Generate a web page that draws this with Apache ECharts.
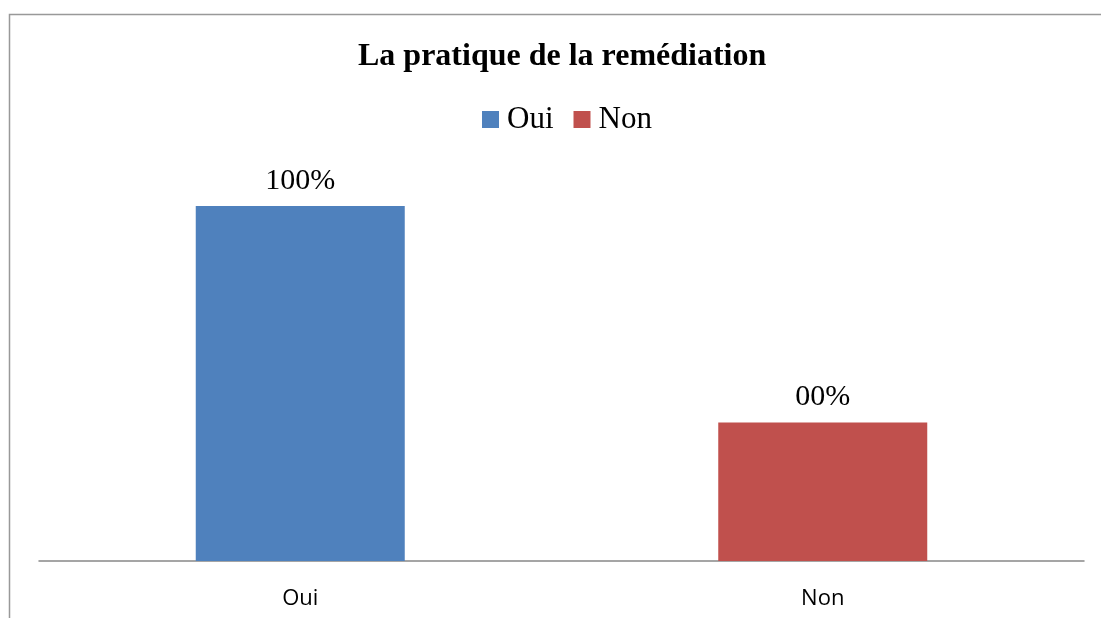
<!DOCTYPE html>
<html>
<head>
<meta charset="utf-8">
<script src="https://cdn.jsdelivr.net/npm/echarts@6/dist/echarts.min.js"></script>
<style>
  html, body { margin: 0; padding: 0; background: #fff; }
  #chart { width: 1101px; height: 618px; }
</style>
</head>
<body>
<div id="chart"></div>
<script>
// données
const categories = ['Oui', 'Non'];
const seriesNames = ['Oui', 'Non'];
const values = [100, 39];
const valueLabels = ['100%', '00%'];
const colors = ['#4F81BD', '#C0504D'];

const chart = echarts.init(document.getElementById('chart'));

const series = seriesNames.map((name, i) => ({
  name: name,
  type: 'bar',
  stack: 'total',
  barWidth: '40%',
  data: categories.map((c, j) => (j === i ? values[i] : '-')),
  itemStyle: { color: colors[i] },
  label: {
    show: true,
    position: 'top',
    distance: 10,
    formatter: () => valueLabels[i],
    fontFamily: 'Liberation Serif',
    fontSize: 30,
    color: '#000'
  }
}));

chart.setOption({
  animation: false,
  title: {
    text: 'La pratique de la remédiation',
    left: 353,
    top: 36,
    textStyle: {
      fontFamily: 'Liberation Serif',
      fontWeight: 'bold',
      fontSize: 32,
      color: '#000'
    }
  },
  legend: {
    data: seriesNames,
    top: 99,
    left: 477,
    icon: 'rect',
    itemWidth: 17,
    itemHeight: 17,
    itemGap: 20,
    textStyle: {
      fontFamily: 'Liberation Serif',
      fontSize: 31,
      color: '#000',
      padding: [0, 0, 0, 3]
    }
  },
  grid: { left: 39, right: 17, top: 206, bottom: 57 },
  xAxis: {
    type: 'category',
    data: categories,
    axisLine: { lineStyle: { color: '#888', width: 1.5 } },
    axisTick: { show: false },
    axisLabel: {
      fontFamily: 'Open Sans',
      fontSize: 22,
      color: '#000',
      margin: 27
    }
  },
  yAxis: {
    type: 'value',
    min: 0,
    max: 100,
    show: false,
    splitLine: { show: false }
  },
  graphic: [
    {
      type: 'polyline',
      shape: { points: [[9.5, 618], [9.5, 14.5], [1101, 14.5]] },
      style: { stroke: '#999', lineWidth: 1.5, fill: null }
    }
  ],
  series: series
});
</script>
</body>
</html>
